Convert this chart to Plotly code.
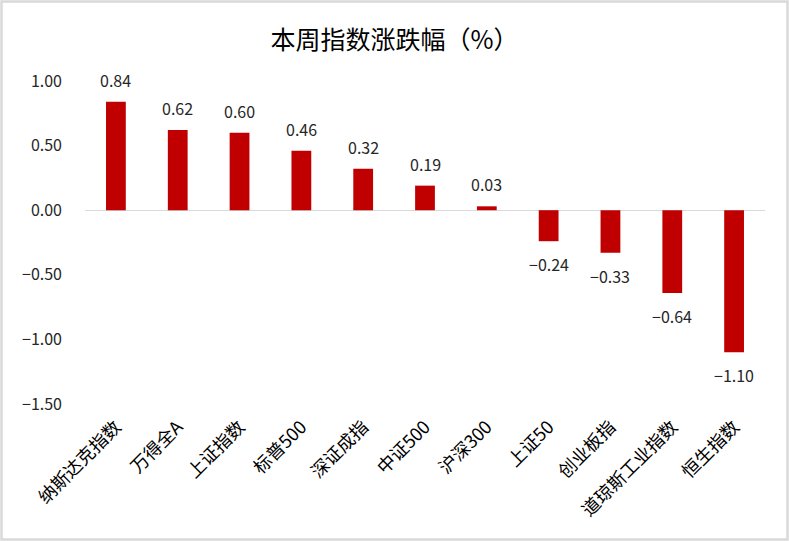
import plotly.graph_objects as go

categories = ["纳斯达克指数", "万得全A", "上证指数", "标普500", "深证成指", "中证500",
              "沪深300", "上证50", "创业板指", "道琼斯工业指数", "恒生指数"]
values = [0.84, 0.62, 0.60, 0.46, 0.32, 0.19, 0.03, -0.24, -0.33, -0.64, -1.10]
y_ticks = [1.0, 0.5, 0.0, -0.5, -1.0, -1.5]
y_tick_labels = [f"{v:.2f}".replace("-", "−") for v in y_ticks]
title_text = "本周指数涨跌幅（%）"

FONT = "Noto Sans CJK SC"
W, H = 789, 541
L, R, T, B = 85, 24, 81, 137
pw, ph = W - L - R, H - T - B

labels = [f"{v:.2f}".replace("-", "−") for v in values]

fig = go.Figure()
fig.add_trace(go.Bar(
    x=categories, y=values, width=0.32,
    marker=dict(color="#C00000", line=dict(width=0)),
    cliponaxis=False, hoverinfo="skip",
))

for c, v, t in zip(categories, values, labels):
    fig.add_annotation(x=c, y=v, text=t, showarrow=False, xanchor="center", yanchor="middle",
                       yshift=22 if v >= 0 else -23,
                       font=dict(family=FONT, size=16, color="#262626"))

def px_x(p):
    return (p - L) / pw

def px_y(p):
    return (H - B - p) / ph

fig.add_shape(type="rect", xref="paper", yref="paper",
              x0=px_x(1.5), x1=px_x(W - 1.5), y0=px_y(H - 1.5), y1=px_y(1.5),
              line=dict(color="#d9d9d9", width=2.5), fillcolor="rgba(0,0,0,0)", layer="below")

fig.update_layout(
    width=W, height=H,
    margin=dict(l=L, r=R, t=T, b=B),
    paper_bgcolor="white", plot_bgcolor="white",
    showlegend=False,
    title=dict(text=title_text, x=0.5, xanchor="center", y=1 - 40 / H, yanchor="middle",
               font=dict(family=FONT, size=25, color="#000000")),
    xaxis=dict(tickangle=-45, tickfont=dict(family=FONT, size=18, color="#000000"),
               showgrid=False, showline=False, ticks="", automargin=False,
               ticklabelstandoff=8),
    yaxis=dict(range=[-1.5, 1.0], tickvals=y_ticks, ticktext=y_tick_labels,
               tickfont=dict(family=FONT, size=16, color="#262626"),
               showgrid=False, zeroline=True, zerolinecolor="#d9d9d9", zerolinewidth=1,
               showline=False, ticks="", ticklabelstandoff=22, automargin=False),
    font=dict(family=FONT),
)

fig.write_html("out.html", config={"displayModeBar": False},
               post_script="document.body.style.margin='0';document.body.style.overflow='hidden';")
